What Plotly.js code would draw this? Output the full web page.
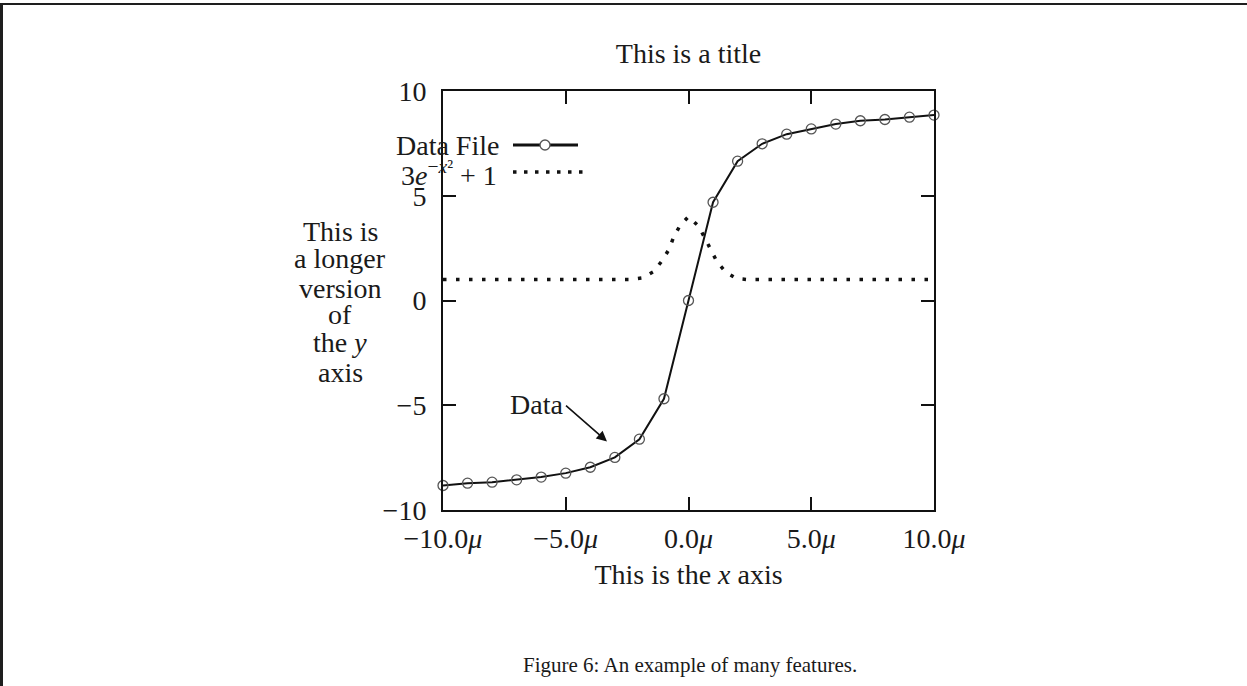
<!DOCTYPE html>
<html>
<head>
<meta charset="utf-8">
<script src="https://cdn.plot.ly/plotly-3.0.1.min.js"></script>
<style>
  html, body { margin: 0; padding: 0; background: #fff; }
  #wrap { position: relative; width: 1247px; height: 686px; overflow: hidden; }
  #chart { position: absolute; left: 0; top: 0; width: 1247px; height: 686px; }
  .bt { position: absolute; left: 0; top: 3px; width: 1247px; height: 2px; background: #1e1e1e; }
  .bl { position: absolute; left: 0; top: 3px; width: 3px; height: 683px; background: #1e1e1e; }
</style>
</head>
<body>
<div id="wrap">
  <div id="chart"></div>
  <div class="bt"></div>
  <div class="bl"></div>
</div>
<script>
// ---- data ----
const dataX = [-10, -9, -8, -7, -6, -5, -4, -3, -2, -1, 0, 1, 2, 3, 4, 5, 6, 7, 8, 9, 10];
const dataY = [-8.83, -8.72, -8.67, -8.56, -8.43, -8.24, -7.96, -7.49, -6.62, -4.69, 0.0,
               4.69, 6.65, 7.48, 7.94, 8.19, 8.42, 8.58, 8.64, 8.75, 8.85];

const funcX = [-10, -2.4, -1.89, -1.42, -1.08, -0.80, -0.60, -0.34, 0.0, 0.41, 0.67, 0.91, 1.16, 1.52, 1.96, 2.4, 10];
const funcY = [1.0, 1.0, 1.08, 1.38, 1.89, 2.43, 3.04, 3.59, 4.0, 3.55, 2.97, 2.39, 1.85, 1.35, 1.05, 1.0, 1.0];

const xTickVals = [-10, -5, 0, 5, 10];
const xTickText = ['\u221210.0<i>\u03bc</i>', '\u22125.0<i>\u03bc</i>', '0.0<i>\u03bc</i>', '5.0<i>\u03bc</i>', '10.0<i>\u03bc</i>'];
const yTickVals = [-10, -5, 0, 5, 10];
const yTickText = ['\u221210', '\u22125', '0', '5', '10'];

const titleText = 'This is a title';
const xTitleText = 'This is the <i>x</i> axis';
const yTitleLines = ['This is', 'a longer', 'version', 'of', 'the <i>y</i>', 'axis'];
const legendNames = ['Data File', '3<i>e</i><sup>\u2212<i>x</i>\u00b2</sup> + 1'];
const captionText = 'Figure 6: An example of many features.';
const arrowLabel = 'Data';

// ---- layout helpers (pixel -> paper) ----
const W = 1247, H = 686;
const M = {l: 443, r: 313, t: 91, b: 176};
const PW = W - M.l - M.r, PH = H - M.t - M.b;
const px = v => (v - M.l) / PW;
const py = v => (H - M.b - v) / PH;

const FONT = 'Liberation Serif, DejaVu Serif, serif';
const FS = 28;
const INK = '#1a1a1a';

const traces = [
  {
    x: dataX, y: dataY, type: 'scatter', mode: 'lines+markers', name: legendNames[0],
    line: {color: '#111', width: 2},
    marker: {symbol: 'circle-open', size: 10, color: '#555', line: {width: 1.3, color: '#555'}},
    cliponaxis: false, showlegend: false
  },
  {
    x: funcX, y: funcY, type: 'scatter', mode: 'lines', name: legendNames[1],
    line: {color: '#111', width: 3.5, dash: '3.5px,9.5px'},
    showlegend: false
  }
];

const yLineCenters = [231, 258, 288, 314, 342, 372];
const annotations = [];
yTitleLines.forEach((t, i) => {
  annotations.push({xref: 'paper', yref: 'paper', x: px(340), y: py(yLineCenters[i]),
    xanchor: 'center', yanchor: 'middle', text: t, showarrow: false,
    font: {family: FONT, size: FS, color: INK}});
});
// legend labels (text left of sample, as in the reference)
annotations.push({xref: 'paper', yref: 'paper', x: px(501), y: py(145), xanchor: 'right', yanchor: 'middle',
  text: legendNames[0], showarrow: false, font: {family: FONT, size: FS, color: INK}});
annotations.push({xref: 'paper', yref: 'paper', x: px(499), y: py(173), xanchor: 'right', yanchor: 'middle',
  text: legendNames[1], showarrow: false, font: {family: FONT, size: FS, color: INK}});
// arrow label and arrow
annotations.push({xref: 'x', yref: 'y', x: -5.05, y: -4.96, xanchor: 'right', yanchor: 'middle',
  text: arrowLabel, showarrow: false, font: {family: FONT, size: FS, color: INK}});
annotations.push({xref: 'x', yref: 'y', x: -3.32, y: -6.73, axref: 'x', ayref: 'y', ax: -5.05, ay: -4.96,
  text: '', showarrow: true, arrowhead: 2, arrowsize: 1.3, arrowwidth: 1.6, arrowcolor: '#111'});
// caption
annotations.push({xref: 'paper', yref: 'paper', x: px(690), y: py(665), xanchor: 'center', yanchor: 'middle',
  text: captionText, showarrow: false, font: {family: FONT, size: 21, color: INK}});

const shapes = [
  {type: 'line', xref: 'paper', yref: 'paper', x0: px(513), x1: px(578), y0: py(145), y1: py(145),
   line: {color: '#111', width: 3}},
  {type: 'circle', xref: 'paper', yref: 'paper', x0: px(540), x1: px(550), y0: py(150), y1: py(140),
   fillcolor: '#fff', line: {color: '#555', width: 1.3}},
  {type: 'line', xref: 'paper', yref: 'paper', x0: px(513), x1: px(583), y0: py(172), y1: py(172),
   line: {color: '#111', width: 3.5, dash: '3.5px,7.5px'}}
];

const axisCommon = {
  showgrid: false, zeroline: false, showline: true, linecolor: '#111', linewidth: 2,
  mirror: 'ticks', ticks: 'inside', ticklen: 13, tickwidth: 2, tickcolor: '#111',
  tickfont: {family: FONT, size: FS, color: INK}, tickmode: 'array'
};

const layout = {
  width: W, height: H, margin: M, paper_bgcolor: '#fff', plot_bgcolor: '#fff',
  font: {family: FONT, size: FS, color: INK},
  showlegend: false,
  title: {text: titleText, xref: 'paper', x: 0.5, xanchor: 'center', yref: 'container', y: 1 - 53 / H, yanchor: 'middle',
          font: {family: FONT, size: FS, color: INK}},
  xaxis: Object.assign({}, axisCommon, {range: [-10, 10], tickvals: xTickVals, ticktext: xTickText,
          ticklabelstandoff: 2,
          title: {text: xTitleText, standoff: 12, font: {family: FONT, size: FS, color: INK}}}),
  yaxis: Object.assign({}, axisCommon, {range: [-10, 10], tickvals: yTickVals, ticktext: yTickText,
          ticklabelstandoff: 9}),
  annotations: annotations,
  shapes: shapes
};

Plotly.newPlot('chart', traces, layout, {staticPlot: true, displayModeBar: false});
</script>
</body>
</html>
